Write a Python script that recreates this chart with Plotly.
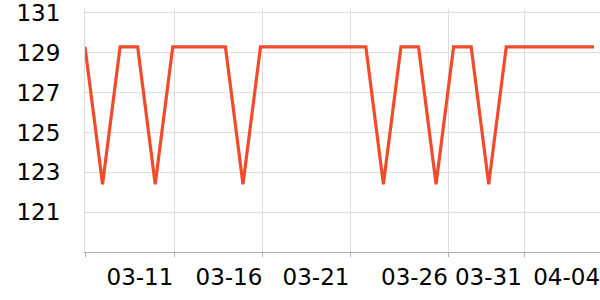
import pandas as pd
import plotly.graph_objects as go

# ---- data ----
dates = pd.date_range("2025-03-06", "2025-04-04", freq="D")
values = [129.3, 122.4, 129.3, 129.3, 122.4, 129.3, 129.3, 129.3, 129.3, 122.4,
          129.3, 129.3, 129.3, 129.3, 129.3, 129.3, 129.3, 122.4, 129.3, 129.3,
          122.4, 129.3, 129.3, 122.4, 129.3, 129.3, 129.3, 129.3, 129.3, 129.3]
tick_labels = ["03-11", "03-16", "03-21", "03-26", "03-31", "04-04"]
y_ticks = [121, 123, 125, 127, 129, 131]

# ---- tick / grid positions (days after first date) ----
start = dates[0]
label_days = [3.13, 8.20, 13.16, 18.77, 22.98, 27.44]
grid_days = [0, 5.09, 10.10, 15.12, 20.70, 25.03]
end_days = 29.34

def at(d):
    return start + pd.Timedelta(days=d)

fig = go.Figure()
fig.add_trace(go.Scatter(
    x=dates, y=values, mode="lines",
    line=dict(color="#f04b2b", width=3.2),
    hoverinfo="skip",
))

font = dict(family="DejaVu Sans", size=23, color="#000000")

fig.update_layout(
    width=600, height=300,
    margin=dict(l=85, r=0, t=6, b=48),
    plot_bgcolor="white", paper_bgcolor="white",
    showlegend=False,
    font=font,
    xaxis=dict(
        type="date",
        range=[at(0), at(end_days)],
        tickmode="array",
        tickvals=[at(d) for d in label_days],
        ticktext=tick_labels,
        ticks="",
        showgrid=False,
        showline=True, linecolor="#b0b0b0", linewidth=1,
        tickfont=font,
        ticklabelstandoff=4,
        ticklabeloverflow="allow",
        zeroline=False,
        minor=dict(
            tickmode="array",
            tickvals=[at(d) for d in grid_days],
            showgrid=True, gridcolor="#dedede", gridwidth=1,
            ticks="outside", ticklen=4, tickcolor="#b0b0b0", tickwidth=1,
        ),
    ),
    yaxis=dict(
        range=[119, 131.2],
        tickmode="array",
        tickvals=y_ticks,
        ticktext=[str(v) for v in y_ticks],
        ticks="",
        showgrid=True, gridcolor="#dedede", gridwidth=1,
        showline=True, linecolor="#dedede", linewidth=1,
        zeroline=False,
        tickfont=font,
        ticklabelstandoff=19,
        ticklabeloverflow="allow",
    ),
)

fig.write_html("out.html")
